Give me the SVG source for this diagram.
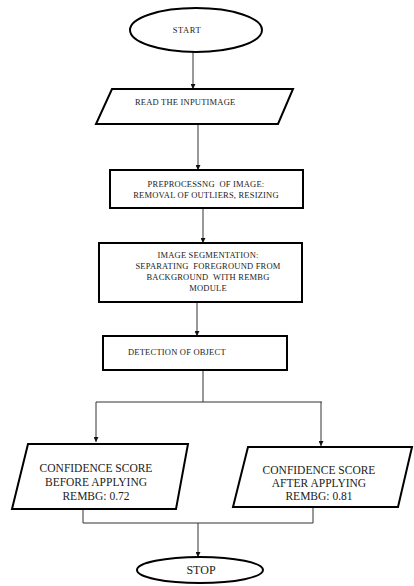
<svg xmlns="http://www.w3.org/2000/svg" width="414" height="586" viewBox="0 0 414 586">
<style>
.shape{fill:#fff;stroke:#000;stroke-width:2}
.conn{fill:none;stroke:#333;stroke-width:1}
.t{font-family:"Liberation Serif","Times New Roman",serif;fill:#222;white-space:pre}
.s{font-size:8.5px;letter-spacing:0.2px}
.m{font-size:11.5px}
</style>
<defs>
<marker id="ah" viewBox="0 0 10 10" refX="10" refY="5" markerWidth="5" markerHeight="5" orient="auto" markerUnits="userSpaceOnUse">
<path d="M0,0 L10,5 L0,10 z" fill="#111"/>
</marker>
</defs>
<rect width="414" height="586" fill="#fff"/>
<g id="connectors">
<line class="conn" x1="193" y1="52" x2="193" y2="89" marker-end="url(#ah)"/>
<line class="conn" x1="198" y1="124" x2="198" y2="170" marker-end="url(#ah)"/>
<line class="conn" x1="203" y1="208" x2="203" y2="243" marker-end="url(#ah)"/>
<line class="conn" x1="197" y1="302" x2="197" y2="336" marker-end="url(#ah)"/>
<polyline class="conn" points="203,370 203,402"/>
<polyline class="conn" points="96,402 322,402"/>
<line class="conn" x1="96" y1="402" x2="96" y2="442" marker-end="url(#ah)"/>
<line class="conn" x1="321" y1="402" x2="321" y2="446" marker-end="url(#ah)"/>
<polyline class="conn" points="83,509 83,523 313,523 313,507"/>
<line class="conn" x1="198" y1="523" x2="198" y2="557" marker-end="url(#ah)"/>
</g>
<g id="start">
<ellipse class="shape" cx="196" cy="30" rx="66" ry="22"/>
<text class="t s" x="187" y="33" text-anchor="middle" style="letter-spacing:0.6px">START</text>
</g>
<g id="read">
<polygon class="shape" points="112,89 293,89 278,124 96,124"/>
<text class="t s" x="135" y="105">READ THE INPUTIMAGE</text>
</g>
<g id="preprocess">
<rect class="shape" x="110" y="170" width="193" height="38"/>
<text class="t s" x="206" y="187" text-anchor="middle">PREPROCESSNG  OF IMAGE:</text>
<text class="t s" x="206" y="198" text-anchor="middle">REMOVAL OF OUTLIERS, RESIZING</text>
</g>
<g id="segmentation">
<rect class="shape" x="99" y="243" width="203" height="59"/>
<text class="t s" x="208" y="258" text-anchor="middle">IMAGE SEGMENTATION:</text>
<text class="t s" x="208" y="269" text-anchor="middle">SEPARATING  FOREGROUND FROM</text>
<text class="t s" x="208" y="280" text-anchor="middle">BACKGROUND  WITH REMBG</text>
<text class="t s" x="208" y="291" text-anchor="middle">MODULE</text>
</g>
<g id="detection">
<rect class="shape" x="103" y="336" width="184" height="34"/>
<text class="t s" x="128" y="355">DETECTION OF OBJECT</text>
</g>
<g id="before">
<polygon class="shape" points="28,444 188,444 176,509 12,509"/>
<text class="t m" x="96" y="472" text-anchor="middle">CONFIDENCE SCORE</text>
<text class="t m" x="96" y="486" text-anchor="middle">BEFORE APPLYING</text>
<text class="t m" x="96" y="500" text-anchor="middle">REMBG: 0.72</text>
</g>
<g id="after">
<polygon class="shape" points="248,447 412,447 398,507 233,507"/>
<text class="t m" x="319" y="474" text-anchor="middle">CONFIDENCE SCORE</text>
<text class="t m" x="319" y="487" text-anchor="middle">AFTER APPLYING</text>
<text class="t m" x="319" y="500" text-anchor="middle">REMBG: 0.81</text>
</g>
<g id="stop">
<ellipse class="shape" cx="200" cy="570" rx="63" ry="13"/>
<text class="t" x="201" y="574" text-anchor="middle" font-size="12">STOP</text>
</g>
</svg>
